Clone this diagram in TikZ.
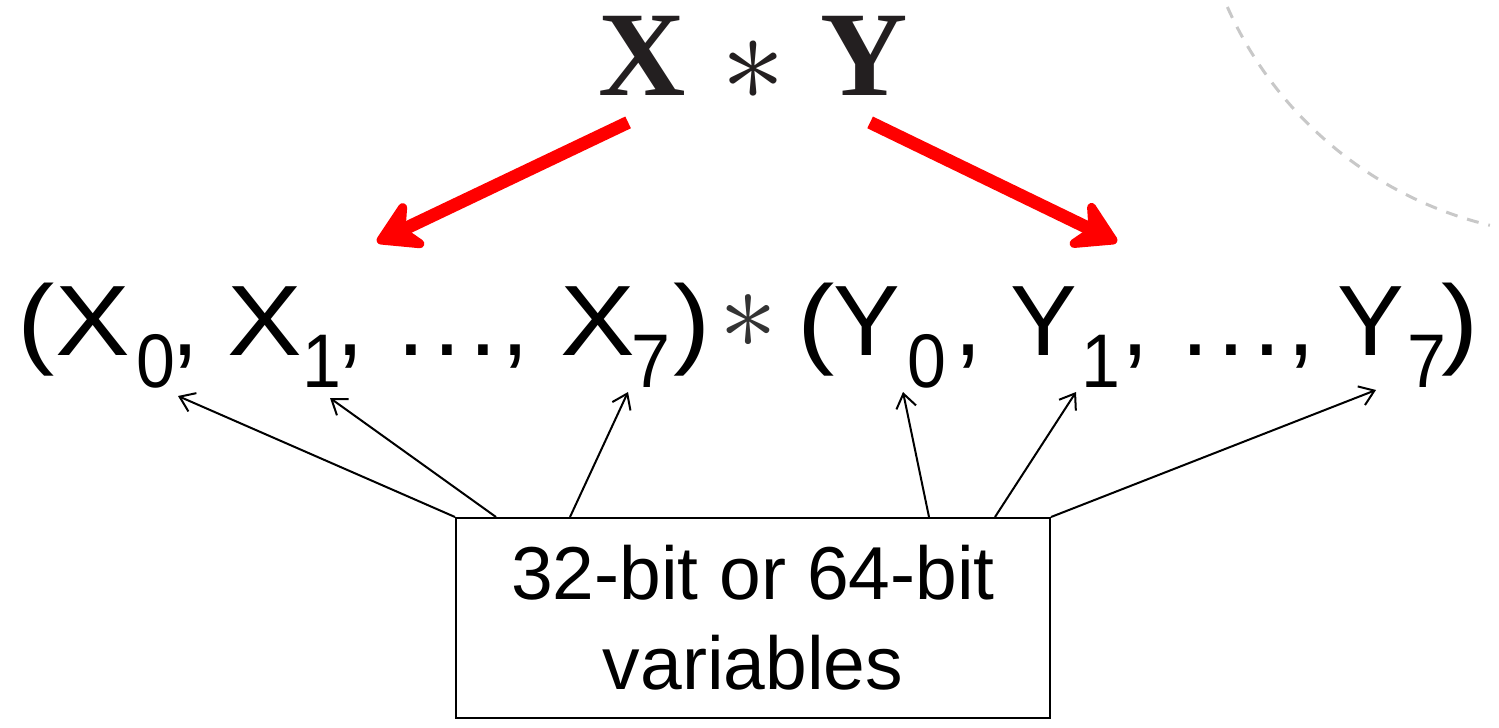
\RequirePackage{fix-cm}
\documentclass[tikz,border=0pt]{standalone}
\usepackage{fontspec}
\usepackage{tikz}
\usetikzlibrary{arrows.meta, positioning, calc}
\newfontfamily\sansfont{Liberation Sans}
\newfontfamily\widefont[FakeStretch=1.12]{Liberation Sans}
\newfontfamily\subfont[FakeStretch=0.92]{Liberation Sans}
\newfontfamily\seriffont{Liberation Serif}
\definecolor{arrowred}{RGB}{255,0,0}
\definecolor{arcgray}{RGB}{200,200,200}
\definecolor{inkblack}{RGB}{35,31,32}
\newcommand{\dotsrow}{.\kern4.1pt.\kern4.1pt.}

\begin{document}
\begin{tikzpicture}[
        x=0.5pt, y=-0.5pt,
        term/.style={anchor=base west, inner sep=0pt, font=\sansfont\fontsize{50}{60}\selectfont},
        xterm/.style={term, font=\widefont\fontsize{50}{60}\selectfont},
        subterm/.style={anchor=base west, inner sep=0pt, font=\subfont\fontsize{38}{46}\selectfont},
        topterm/.style={anchor=base west, inner sep=0pt, text=inkblack, font=\seriffont\bfseries\fontsize{60.5}{72}\selectfont},
        topstar/.style={inner sep=0pt, text=inkblack, font=\fontsize{64}{72}\selectfont},
        midstar/.style={inner sep=0pt, text=black!80, font=\fontsize{58}{66}\selectfont},
        varbox/.style={draw, line width=1pt, inner sep=0pt, minimum width=297pt, minimum height=100pt, align=center, font=\sansfont\fontsize{37.5}{45}\selectfont},
        bigarrow/.style={-{Stealth[length=27pt, width=32pt, inset=9pt, round]}, line width=6.5pt, arrowred},
        thinarrow/.style={-{Straight Barb[length=7pt, width=10pt]}, line width=1pt},
        arcline/.style={arcgray, line width=1.5pt, dash pattern=on 6pt off 5pt}
    ]
        \useasboundingbox (0,0) rectangle (1499,728);

        % produit en haut
        \node[topterm] (topx) at (598,95) {X};
        \node[topstar] (topast) at (753,71) {$\ast$};
        \node[topterm] (topy) at (820,95) {Y};

        % ligne des X
        \node[xterm] (lpx) at (17,355) {(};
        \node[xterm] (xa) at (55,355) {X};
        \node[subterm] (xa0) at (136,387) {0};
        \node[term] (cxa) at (171,355) {,};
        \node[xterm] (xb) at (227,355) {X};
        \node[subterm] (xb1) at (302,387) {1};
        \node[term] (cxb) at (336,355) {,};
        \node[term] (xdots) at (397,355) {\dotsrow};
        \node[term] (cxc) at (501,355) {,};
        \node[xterm] (xc) at (560,355) {X};
        \node[subterm] (xc7) at (631,387) {7};
        \node[xterm] (rpx) at (673,355) {)};

        \node[midstar] (midast) at (748,322) {$\ast$};

        % ligne des Y
        \node[xterm] (lpy) at (797,355) {(};
        \node[term] (ya) at (833,355) {Y};
        \node[subterm] (ya0) at (907,387) {0};
        \node[term] (cya) at (954,355) {,};
        \node[term] (yb) at (1010,355) {Y};
        \node[subterm] (yb1) at (1081,387) {1};
        \node[term] (cyb) at (1121,355) {,};
        \node[term] (ydots) at (1181,355) {\dotsrow};
        \node[term] (cyc) at (1287,355) {,};
        \node[term] (yc) at (1337,355) {Y};
        \node[subterm] (yc7) at (1407,387) {7};
        \node[xterm] (rpy) at (1441,355) {)};

        % boite du bas
        \node[varbox] (box) at (753,618) {32-bit or 64-bit\\variables};

        % pointes des fleches fines
        \coordinate (tx0) at (178,396);
        \coordinate (tx1) at (330,398);
        \coordinate (tx7) at (628,392);
        \coordinate (ty0) at (903,392);
        \coordinate (ty1) at (1076,392);
        \coordinate (ty7) at (1376,390);

        \draw[thinarrow] (box.north west) -- (tx0);
        \draw[thinarrow] ($(box.north west)+(41,0)$) -- (tx1);
        \draw[thinarrow] ($(box.north west)+(115,0)$) -- (tx7);
        \draw[thinarrow] ($(box.north west)+(474,0)$) -- (ty0);
        \draw[thinarrow] ($(box.north west)+(540,0)$) -- (ty1);
        \draw[thinarrow] (box.north east) -- (ty7);

        % fleches rouges
        \coordinate (xto) at (377,242);
        \coordinate (yto) at (1117,242);
        \draw[bigarrow] ([shift={(-14,27)}]topx.south) -- (xto);
        \draw[bigarrow] ([shift={(6,27)}]topy.south) -- (yto);

        % arc en pointille
        \draw[arcline] (1580,-150) ++(156:386) arc[start angle=156, end angle=103.5, radius=386];
    \end{tikzpicture}
\end{document}
